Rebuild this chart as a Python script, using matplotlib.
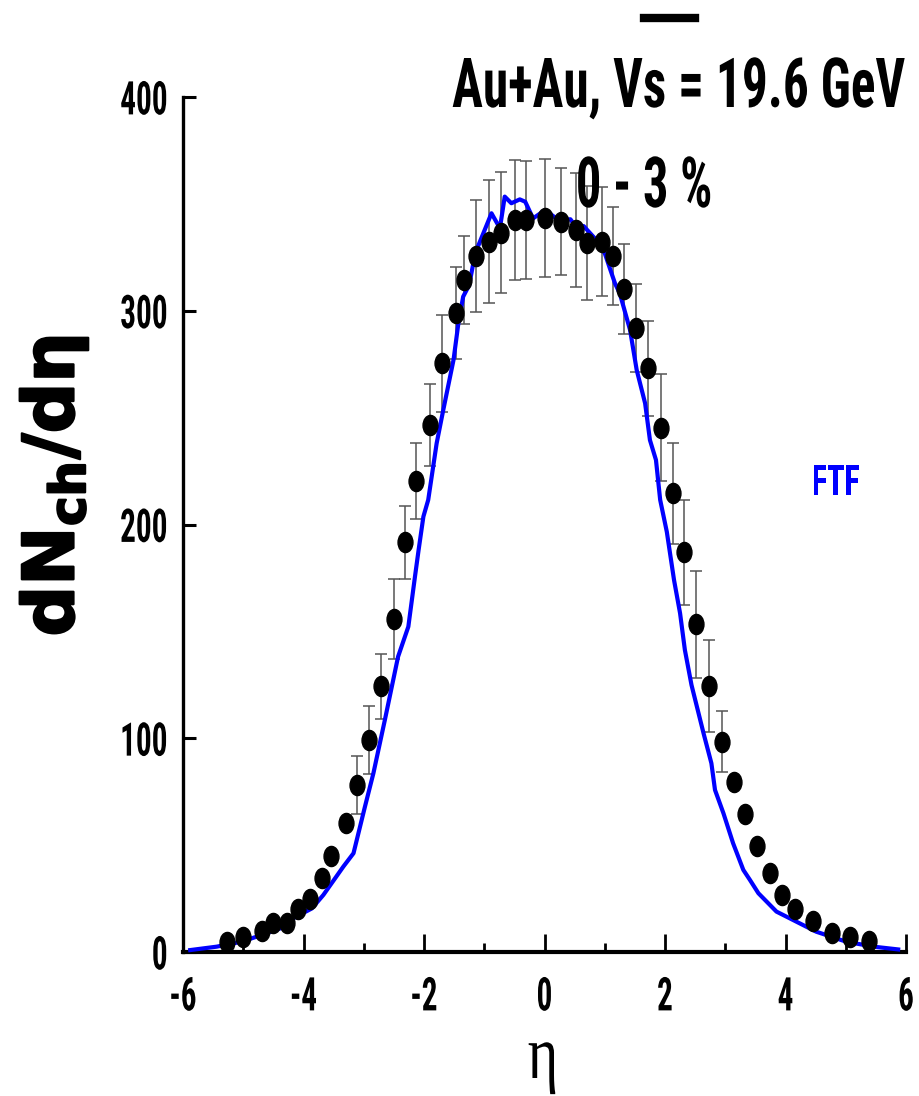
import matplotlib
matplotlib.use("Agg")
import matplotlib.pyplot as plt
from matplotlib import font_manager, patheffects
from matplotlib.font_manager import FontProperties
from matplotlib.path import Path
from matplotlib.textpath import TextPath
from matplotlib.transforms import Affine2D
from matplotlib.lines import Line2D
import numpy as np
import os

# ---------------- data ----------------
eta_data = [-5.27, -5.00, -4.69, -4.51, -4.28, -4.09, -3.89, -3.69, -3.54, -3.30,
            -3.11, -2.91, -2.72, -2.50, -2.31, -2.13, -1.90, -1.70, -1.47, -1.33,
            -1.13, -0.92, -0.73, -0.49, -0.30, 0.01, 0.28, 0.52, 0.70, 0.95,
            1.14, 1.32, 1.52, 1.71, 1.93, 2.13, 2.32, 2.51, 2.73, 2.95,
            3.15, 3.33, 3.53, 3.75, 3.95, 4.16, 4.46, 4.77, 5.07, 5.39]
dn_data = [4.8, 7.2, 9.8, 13.7, 13.4, 20.0, 24.6, 34.5, 44.9, 60.2,
           78.1, 99.2, 124.4, 155.6, 191.7, 220.4, 246.5, 275.4, 299.1, 314.4,
           325.6, 332.3, 336.5, 342.5, 342.5, 343.2, 341.7, 337.8, 331.5, 332.3,
           325.6, 310.0, 291.8, 273.1, 245.3, 214.6, 187.0, 153.3, 124.4, 98.4,
           79.7, 64.6, 49.6, 37.1, 26.7, 20.0, 14.7, 8.7, 6.9, 5.3]
# error bars (0 = no bar drawn)
dn_err = [0, 0, 0, 0, 0, 0, 0, 0, 0, 0,
          13.5, 15.7, 15.2, 18.7, 17.0, 17.8, 19.0, 22.6, 21.5, 20.4,
          26.3, 28.8, 28.4, 28.0, 27.7, 27.6, 25.0, 26.6, 26.7, 25.4,
          23.0, 21.0, 20.6, 22.3, 25.0, 23.7, 24.5, 25.0, 21.4, 14.3,
          0, 0, 0, 0, 0, 0, 0, 0, 0, 0]

ftf_eta = [-5.88, -5.44, -5.03, -4.69, -4.39, -4.17, -3.86, -3.67, -3.34, -3.17,
           -2.98, -2.84, -2.65, -2.43, -2.26, -2.15, -2.09, -2.01, -1.93, -1.79,
           -1.68, -1.51, -1.43, -1.35, -1.25, -1.15, -0.88, -0.74, -0.66, -0.55,
           -0.41, -0.32, -0.19, 0.01, 0.23, 0.29, 0.43, 0.56, 0.65, 0.86,
           1.00, 1.17, 1.25, 1.42, 1.53, 1.67, 1.75, 1.85, 1.92, 2.03,
           2.15, 2.25, 2.33, 2.44, 2.64, 2.77, 2.83, 2.97, 3.13, 3.30,
           3.41, 3.55, 3.85, 4.18, 4.51, 5.01, 5.46, 5.87]
ftf_dn = [0.9, 2.5, 4.8, 8.0, 11.0, 15.8, 20.4, 26.7, 39.9, 46.2,
          68.0, 83.6, 108.5, 138.2, 152.2, 175.6, 188.0, 203.7, 211.5, 238.0,
          253.6, 277.0, 294.0, 306.6, 312.0, 326.9, 345.6, 338.6, 353.4, 350.3,
          352.1, 351.0, 343.2, 347.1, 342.5, 342.5, 342.8, 337.8, 339.6, 333.1,
          326.9, 312.8, 308.1, 291.0, 272.3, 256.7, 239.5, 230.2, 211.5, 196.6,
          174.0, 158.5, 141.3, 124.9, 102.3, 88.3, 75.8, 64.9, 50.9, 38.4,
          33.7, 27.5, 18.9, 14.2, 9.5, 4.8, 2.5, 1.2]

x_ticks = [-6, -4, -2, 0, 2, 4, 6]
x_ticklabels = ["-6", "-4", "-2", "0", "2", "4", "6"]
y_ticks = [0, 100, 200, 300, 400]
y_ticklabels = ["0", "100", "200", "300", "400"]

title_text = "Au+Au, Vs = 19.6 GeV"
centrality_text = "0 - 3 %"
model_text = "FTF"

# ---------------- fonts: look for a condensed bold sans ----------------
cand_file = None
prefs = ["liberationsansnarrow-bold.", "arialnarrow-bold", "arialnb",
         "robotocondensed-bold.", "opensans-condensedbold", "opensanscondensed-bold",
         "dejavusanscondensed-bold."]
files = [f.fname for f in font_manager.fontManager.ttflist]
for p in prefs:
    for fn in files:
        if os.path.basename(fn).lower().startswith(p):
            cand_file = fn
            break
    if cand_file:
        break


def fp_for(size):
    if cand_file:
        return FontProperties(fname=cand_file, size=size)
    return FontProperties(family=["Liberation Sans", "DejaVu Sans"], weight="bold", size=size)


CAP_LOCAL = TextPath((0, 0), "H", size=100, prop=fp_for(100)).vertices[:, 1].max()


def fit(s, target_w, target_cap, base=30.0):
    """font size giving the target ink width, and vertical stretch giving target cap height (px)."""
    w = TextPath((0, 0), s, prop=fp_for(base)).get_extents().width * 100 / 72
    fs = base * target_w / w
    cap_px = CAP_LOCAL * fs / 100 * 100 / 72
    return fs, target_cap / cap_px


class Stretch(patheffects.AbstractPathEffect):
    """Draw the glyph outlines stretched vertically about a local height yc."""

    def __init__(self, sy=1.0, yc=0.0):
        super().__init__()
        self.sy, self.yc = sy, yc

    def draw_path(self, renderer, gc, tpath, affine, rgbFace=None):
        t = Affine2D().translate(0, -self.yc).scale(1.0, self.sy).translate(0, self.yc) + affine
        renderer.draw_path(gc, tpath, t, rgbFace)


plt.rcParams["axes.unicode_minus"] = False
plt.rcParams["mathtext.fontset"] = "dejavusans"

W, H = 919, 1096
fig = plt.figure(figsize=(W / 100, H / 100), dpi=100)
ax = fig.add_axes([183 / W, 144 / H, 723 / W, 855 / H])

ax.set_xlim(-6, 6)
ax.set_ylim(0, 400)

# error bars
ex = [e for e, s in zip(eta_data, dn_err) if s > 0]
ey = [d for d, s in zip(dn_data, dn_err) if s > 0]
es = [s for s in dn_err if s > 0]
ax.errorbar(ex, ey, yerr=es, fmt="none", ecolor="#555555", elinewidth=1.1,
            capsize=4, capthick=1.1, zorder=2, clip_on=False)

# model line
ax.plot(ftf_eta, ftf_dn, color="#0000ff", lw=3.0, zorder=3, clip_on=False,
        solid_joinstyle="round")

# data markers (elliptical dots)
circ = Path.unit_circle()
ell = Path(Affine2D().scale(0.74, 1.0).transform(circ.vertices), circ.codes)
ax.plot(eta_data, dn_data, linestyle="none", marker=ell, markersize=14.5,
        color="black", zorder=4, clip_on=False)

# axes styling
for s in ["top", "right"]:
    ax.spines[s].set_visible(False)
ax.spines["left"].set_linewidth(2.4)
ax.spines["bottom"].set_linewidth(3.0)

ax.set_xticks(x_ticks)
ax.set_xticklabels(x_ticklabels)
ax.set_xticks(np.arange(-5, 6, 2), minor=True)
ax.set_yticks(y_ticks)
ax.set_yticklabels(y_ticklabels)
ax.tick_params(axis="x", which="major", direction="in", length=13, width=2.0, pad=17)
ax.tick_params(axis="x", which="minor", direction="in", length=6.5, width=2.0)
ax.tick_params(axis="y", which="major", direction="in", length=9, width=2.2, pad=11)

fs_tick, sy_tick = fit("400", 45, 33)
for lab in ax.get_xticklabels():
    lab.set_fontproperties(fp_for(fs_tick))
    lab.set_path_effects([Stretch(sy_tick, CAP_LOCAL)])
for lab in ax.get_yticklabels():
    lab.set_fontproperties(fp_for(fs_tick))
    lab.set_path_effects([Stretch(sy_tick, CAP_LOCAL / 2)])

# y label
fig.text(54 / W, 1 - 486 / H, r"dN$_{\mathbf{ch}}$/dη", family="DejaVu Sans",
         fontweight="bold", rotation=90, ha="center", va="center", fontsize=51,
         path_effects=[patheffects.withStroke(linewidth=1.6, foreground="black")])
# x label
fig.text(543 / W, 1 - 1078 / H, "η", family=["Liberation Serif", "DejaVu Serif"],
         ha="center", va="baseline", fontsize=42,
         path_effects=[Stretch(1.3, 0)])

# annotations
fs_t, sy_t = fit(title_text, 452, 49)
fig.text(905 / W, 1 - 107 / H, title_text, fontproperties=fp_for(fs_t),
         ha="right", va="baseline", path_effects=[Stretch(sy_t, 0)])
fig.add_artist(Line2D([644 / W, 695 / W], [1 - 17.5 / H, 1 - 17.5 / H],
                      transform=fig.transFigure, color="black", lw=6))
fs_c, sy_c = fit(centrality_text, 132, 50)
fig.text(644 / W, 1 - 207 / H, centrality_text, fontproperties=fp_for(fs_c),
         ha="center", va="baseline", path_effects=[Stretch(sy_c, 0)])
fs_m, sy_m = fit(model_text, 45, 30)
fig.text(812 / W, 1 - 495 / H, model_text, fontproperties=fp_for(fs_m),
         ha="left", va="baseline", color="#0000ff", path_effects=[Stretch(sy_m, 0)])

fig.savefig("out.png", dpi=100)
